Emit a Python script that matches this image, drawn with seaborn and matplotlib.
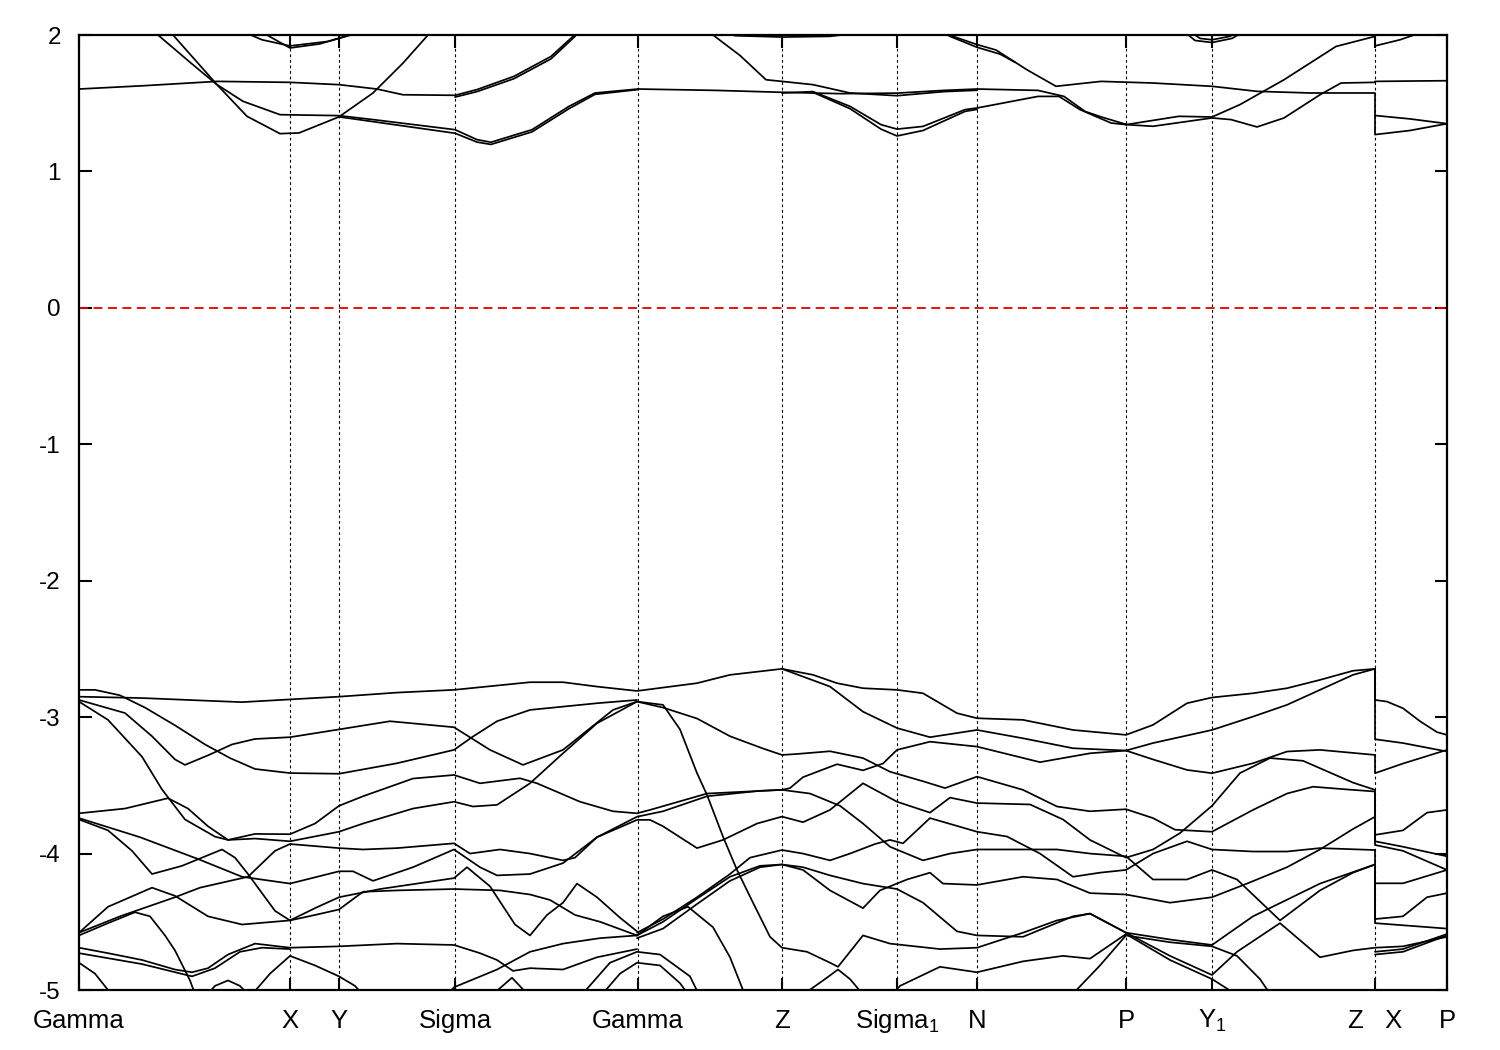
import matplotlib
matplotlib.use("Agg")
import matplotlib.pyplot as plt
import seaborn as sns
import pandas as pd

# path coordinate of the high-symmetry points (same units as the band data below)
sym_x = [79, 290, 339, 455, 638, 782, 897, 977, 1126, 1212, 1375, 1447]
sym_labels = ["Gamma", "X", "Y", "Sigma", "Gamma", "Z", "Sigma$_1$", "N",
              "P", "Y$_1$", "Z   X", "P"]
energy_ticks = [-5, -4, -3, -2, -1, 0, 1, 2]
fermi_level = 0.0

# conduction bands, (path, energy eV)
cb1 = [(79, 1.604), (143, 1.628), (217, 1.66), (290, 1.653), (339, 1.636), (377, 1.604),
       (403, 1.562), (455, 1.558), (477, 1.60), (514, 1.697), (551, 1.843), (573, 1.99), (580, 2.05)]
cb1b = [(455, 1.545), (477, 1.585), (514, 1.68), (551, 1.825), (575, 1.99), (582, 2.05)]
cb2 = [(150, 2.05), (158, 2.0), (191, 1.794), (217, 1.636), (243, 1.514), (280, 1.416), (339, 1.409),
       (373, 1.38), (455, 1.306), (477, 1.233), (491, 1.214), (532, 1.306), (569, 1.477), (595, 1.575),
       (638, 1.604)]
cb2b = [(339, 1.40), (373, 1.365), (455, 1.28), (477, 1.215), (491, 1.198), (532, 1.29), (569, 1.46),
        (595, 1.565), (638, 1.60)]
cb3 = [(165, 2.05), (173, 2.0), (217, 1.636), (247, 1.404), (280, 1.277), (299, 1.282), (339, 1.40),
       (373, 1.575), (403, 1.794), (428, 2.0), (432, 2.05)]
cb4 = [(235, 2.05), (262, 1.965), (290, 1.92), (328, 1.953), (351, 2.0), (355, 2.05)]
cb4b = [(262, 2.02), (290, 1.905), (320, 1.935), (345, 1.99), (352, 2.05)]
cb5 = [(638, 1.604), (716, 1.594), (782, 1.58), (840, 1.57), (897, 1.574), (944, 1.594), (977, 1.604),
       (1038, 1.594), (1064, 1.55), (1085, 1.44), (1101, 1.40), (1126, 1.345)]
cb6 = [(700, 2.05), (713, 2.0), (740, 1.85), (766, 1.672), (782, 1.66), (813, 1.636), (850, 1.575),
       (897, 1.555), (944, 1.585), (977, 1.595)]
cb7 = [(782, 1.575), (813, 1.585), (850, 1.477), (881, 1.343), (897, 1.31), (923, 1.33), (965, 1.453),
       (977, 1.465), (1038, 1.55), (1059, 1.55), (1080, 1.453), (1111, 1.355), (1126, 1.343)]
cb7b = [(813, 1.58), (850, 1.46), (881, 1.31), (897, 1.26), (923, 1.30), (965, 1.44), (977, 1.455)]
cb8 = [(940, 2.05), (949, 2.0), (977, 1.93), (996, 1.89), (1027, 1.745), (1056, 1.624), (1101, 1.66),
       (1153, 1.648), (1212, 1.624), (1257, 1.587), (1310, 1.575), (1375, 1.575),
       (1375, 1.41), (1410, 1.385), (1447, 1.35)]
cb8b = [(935, 2.05), (950, 1.99), (977, 1.91), (1000, 1.86), (1015, 1.80)]
cb9 = [(1126, 1.343), (1179, 1.404), (1212, 1.399), (1240, 1.49), (1284, 1.672), (1336, 1.916),
       (1375, 1.99), (1375, 1.92), (1400, 1.965), (1414, 2.0), (1420, 2.05)]
cb10 = [(1126, 1.343), (1153, 1.331), (1212, 1.392), (1231, 1.38), (1257, 1.326), (1284, 1.392),
        (1320, 1.562), (1341, 1.648), (1375, 1.653), (1375, 1.66), (1447, 1.665)]
cb11 = [(1375, 1.41), (1375, 1.27), (1410, 1.30), (1447, 1.35)]
cb12 = [(712, 2.05), (735, 1.995), (782, 1.985), (830, 1.99), (862, 2.02), (870, 2.05)]
cb13 = [(1180, 2.05), (1195, 1.96), (1212, 1.945), (1232, 1.975), (1250, 2.05)]
cb13b = [(1185, 2.05), (1200, 1.975), (1212, 1.965), (1230, 1.99), (1245, 2.05)]

# valence bands, (path, energy eV)
vb1 = [(79, -2.85), (142, -2.86), (208, -2.88), (242, -2.89), (290, -2.87), (339, -2.85), (397, -2.82),
       (454, -2.80), (530, -2.744), (563, -2.744), (597, -2.776), (637, -2.808), (697, -2.751),
       (730, -2.69), (782, -2.646), (813, -2.69), (837, -2.751), (863, -2.788), (897, -2.80),
       (923, -2.825), (957, -2.971), (977, -3.008), (1023, -3.02), (1073, -3.094), (1126, -3.13),
       (1153, -3.057), (1187, -2.898), (1212, -2.856), (1253, -2.825), (1287, -2.788), (1320, -2.727),
       (1353, -2.66), (1375, -2.646),
       (1375, -2.874), (1387, -2.886), (1403, -2.935), (1420, -3.03), (1437, -3.11), (1447, -3.13)]
vb2 = [(782, -2.646), (830, -2.776), (863, -2.96), (897, -3.08), (930, -3.147), (977, -3.094),
       (1023, -3.155), (1073, -3.228), (1126, -3.245), (1153, -3.19), (1212, -3.094), (1253, -2.996),
       (1287, -2.91), (1320, -2.80), (1353, -2.69), (1375, -2.646),
       (1375, -3.162), (1403, -3.19), (1447, -3.252)]
vb3 = [(79, -2.80), (95, -2.80), (120, -2.84), (145, -2.93), (175, -3.06), (205, -3.2), (230, -3.3),
       (255, -3.38), (290, -3.41), (339, -3.415), (397, -3.338), (454, -3.24), (473, -3.142),
       (497, -3.03), (530, -2.947), (597, -2.898), (637, -2.874)]
vb4 = [(79, -2.874), (125, -2.97), (152, -3.14), (175, -3.31), (185, -3.35), (208, -3.28), (232, -3.2),
       (255, -3.16), (290, -3.147), (339, -3.09), (390, -3.03), (454, -3.074), (490, -3.24),
       (523, -3.35), (563, -3.24), (613, -2.947), (637, -2.886)]
vb5 = [(79, -2.886), (108, -3.02), (142, -3.29), (162, -3.53), (185, -3.75), (215, -3.876), (228, -3.9),
       (255, -3.856), (290, -3.858), (315, -3.78), (339, -3.65), (363, -3.58), (413, -3.45),
       (454, -3.424), (480, -3.485), (520, -3.448), (537, -3.485), (580, -3.62), (613, -3.69),
       (637, -3.705), (650, -3.68), (707, -3.56), (782, -3.533), (790, -3.52), (803, -3.44),
       (837, -3.345), (863, -3.39), (883, -3.34), (897, -3.24), (930, -3.18), (977, -3.216),
       (1040, -3.33), (1090, -3.265), (1126, -3.245), (1153, -3.31), (1187, -3.387), (1212, -3.411),
       (1253, -3.338), (1287, -3.252), (1320, -3.24), (1375, -3.277),
       (1375, -3.411), (1403, -3.34), (1447, -3.24)]
vb6 = [(79, -3.705), (125, -3.67), (168, -3.594), (188, -3.67), (208, -3.8), (228, -3.9), (255, -3.89),
       (290, -3.91), (339, -3.84), (363, -3.78), (413, -3.67), (454, -3.62), (473, -3.655),
       (497, -3.643), (530, -3.485), (563, -3.265), (597, -3.045), (637, -2.886), (663, -2.93),
       (697, -3.01), (730, -3.14), (763, -3.23), (782, -3.277), (797, -3.27), (830, -3.25), (863, -3.3),
       (890, -3.40), (923, -3.47), (945, -3.52), (977, -3.436), (1023, -3.533), (1057, -3.655),
       (1090, -3.69), (1126, -3.675), (1153, -3.74), (1175, -3.825), (1212, -3.84), (1253, -3.68),
       (1287, -3.56), (1313, -3.51), (1347, -3.53), (1375, -3.545),
       (1375, -3.91), (1403, -3.95), (1447, -4.02)]
vb7 = [(79, -4.58), (120, -4.46), (175, -4.32), (200, -4.25), (248, -4.17), (275, -3.98), (290, -3.93),
       (339, -3.96), (363, -3.97), (397, -3.96), (454, -3.925), (470, -4.0), (500, -3.97), (530, -4.0),
       (563, -4.05), (575, -4.03), (597, -3.88), (637, -3.753), (650, -3.753), (663, -3.80),
       (697, -3.96), (723, -3.90), (757, -3.78), (782, -3.729), (803, -3.77), (830, -3.68),
       (863, -3.485), (897, -3.62), (930, -3.70), (950, -3.59), (977, -3.63), (1030, -3.64),
       (1063, -3.75), (1090, -3.90), (1126, -4.03), (1153, -3.97), (1180, -3.85), (1212, -3.65),
       (1240, -3.41), (1270, -3.30), (1303, -3.32), (1353, -3.48), (1375, -3.533),
       (1375, -3.863), (1403, -3.83), (1427, -3.70), (1447, -3.68)]
vb8 = [(79, -3.74), (140, -3.88), (198, -4.04), (242, -4.17), (290, -4.22), (339, -4.13), (353, -4.13),
       (373, -4.2), (413, -4.1), (454, -3.97), (480, -4.1), (497, -4.16), (530, -4.15), (563, -4.07),
       (597, -3.88), (637, -3.73), (663, -3.69), (707, -3.58), (760, -3.54), (782, -3.533),
       (810, -3.56), (840, -3.65), (863, -3.78), (890, -3.95), (923, -4.05), (950, -4.0), (977, -3.97),
       (1023, -3.97), (1057, -3.97), (1090, -4.0), (1126, -4.02), (1153, -4.19), (1187, -4.19),
       (1212, -4.12), (1237, -4.19), (1280, -4.49), (1320, -4.27), (1353, -4.14), (1375, -4.08),
       (1375, -4.48), (1403, -4.46), (1427, -4.32), (1447, -4.29)]
vb9 = [(637, -4.58), (663, -4.48), (697, -4.32), (730, -4.15), (750, -4.03), (782, -3.974), (803, -4.0),
       (830, -4.05), (850, -4.0), (875, -3.93), (890, -3.90), (903, -3.925), (930, -3.74), (977, -3.84),
       (1007, -3.875), (1040, -4.0), (1073, -4.17), (1100, -4.14), (1126, -4.12), (1153, -4.0),
       (1187, -3.91), (1212, -3.97), (1253, -3.985), (1287, -3.985), (1320, -3.96), (1375, -3.974),
       (1375, -4.218), (1403, -4.218), (1447, -4.12)]
vb10 = [(637, -4.62), (663, -4.55), (697, -4.37), (730, -4.2), (760, -4.1), (782, -4.08), (803, -4.12),
        (830, -4.27), (863, -4.4), (880, -4.27), (907, -4.19), (930, -4.14), (943, -4.22), (977, -4.23),
        (1023, -4.17), (1057, -4.19), (1090, -4.29), (1126, -4.30), (1170, -4.36), (1212, -4.32),
        (1247, -4.22), (1287, -4.1), (1320, -3.97), (1353, -3.82), (1375, -3.73),
        (1375, -3.937), (1403, -3.98), (1447, -4.12)]
vb11 = [(637, -4.6), (663, -4.50), (697, -4.33), (730, -4.17), (760, -4.09), (782, -4.08), (803, -4.1),
        (830, -4.16), (863, -4.22), (897, -4.26), (923, -4.36), (957, -4.57), (977, -4.6), (1023, -4.61),
        (1073, -4.46), (1090, -4.44), (1126, -4.58), (1170, -4.63), (1212, -4.67), (1253, -4.46),
        (1320, -4.22), (1375, -4.08),
        (1375, -4.51), (1447, -4.55)]
vb12 = [(637, -2.886), (663, -2.91), (680, -3.09), (697, -3.41), (707, -3.57), (723, -3.876),
        (737, -4.12), (753, -4.36), (770, -4.61), (782, -4.69), (807, -4.72), (830, -4.80), (838, -4.83),
        (863, -4.6), (890, -4.66), (940, -4.70), (977, -4.69), (1023, -4.58), (1057, -4.49),
        (1090, -4.44), (1126, -4.58), (1170, -4.75), (1200, -4.85), (1212, -4.89), (1237, -4.72),
        (1280, -4.51), (1320, -4.76), (1353, -4.71), (1375, -4.69),
        (1375, -4.69), (1403, -4.68), (1447, -4.61)]
vb13 = [(637, -4.6), (663, -4.46), (688, -4.39), (713, -4.54), (730, -4.76), (743, -5.0), (748, -5.05)]
vb14 = [(800, -5.05), (825, -4.92), (838, -4.85), (850, -4.92), (865, -5.05)]
vb15 = [(890, -5.05), (900, -4.97), (940, -4.83), (977, -4.87), (1023, -4.79), (1063, -4.75),
        (1090, -4.77), (1126, -4.59), (1170, -4.78), (1212, -4.92), (1240, -5.05)]
vb16 = [(1070, -5.05), (1100, -4.82), (1126, -4.6), (1170, -4.65), (1212, -4.68), (1237, -4.75),
        (1260, -4.92), (1272, -5.05)]
vb17 = [(79, -3.75), (108, -3.83), (132, -3.98), (152, -4.15), (182, -4.09), (222, -3.97), (235, -4.03),
        (248, -4.15), (262, -4.29), (275, -4.42), (290, -4.49), (315, -4.40), (339, -4.32), (380, -4.26),
        (454, -4.18), (467, -4.1), (490, -4.24), (515, -4.52), (530, -4.6), (547, -4.45), (563, -4.36),
        (577, -4.22), (597, -4.32), (620, -4.47), (637, -4.57)]
vb18 = [(79, -4.58), (108, -4.39), (152, -4.25), (175, -4.31), (208, -4.46), (242, -4.52), (290, -4.49),
        (315, -4.45), (339, -4.41), (363, -4.28), (397, -4.27), (454, -4.26), (500, -4.27), (530, -4.3),
        (550, -4.34), (575, -4.45), (600, -4.5), (637, -4.6)]
vb19 = [(79, -4.6), (108, -4.51), (135, -4.43), (150, -4.46), (165, -4.6), (175, -4.71), (190, -4.93),
        (196, -5.05)]
vb20 = [(79, -4.69), (108, -4.73), (142, -4.78), (175, -4.85), (192, -4.87), (208, -4.84), (228, -4.74),
        (255, -4.66), (290, -4.69), (339, -4.68), (397, -4.66), (454, -4.67), (480, -4.73),
        (497, -4.78), (513, -4.86), (530, -4.84), (563, -4.85), (597, -4.76), (637, -4.70)]
vb21 = [(79, -4.73), (142, -4.81), (192, -4.9), (215, -4.84), (240, -4.72), (262, -4.69), (290, -4.70)]
vb22 = [(79, -4.8), (95, -4.88), (108, -5.0), (112, -5.05)]
vb23 = [(205, -5.05), (215, -4.97), (228, -4.93), (240, -4.97), (250, -5.05)]
vb24 = [(250, -5.05), (270, -4.88), (290, -4.75), (315, -4.82), (339, -4.9), (355, -4.97), (365, -5.05)]
vb25 = [(445, -5.05), (454, -4.98), (497, -4.85), (530, -4.72), (563, -4.66), (600, -4.62), (637, -4.60)]
vb26 = [(580, -5.05), (610, -4.8), (637, -4.72), (660, -4.74), (690, -4.9), (700, -5.05)]
vb27 = [(600, -5.05), (620, -4.88), (637, -4.80), (660, -4.82), (680, -4.95), (690, -5.05)]
vb28 = [(490, -5.05), (512, -4.91), (530, -5.05)]
vb29 = [(1375, -4.74), (1403, -4.72), (1447, -4.60)]
vb30 = [(1375, -4.72), (1403, -4.70), (1447, -4.59)]

bands = [cb1, cb1b, cb2, cb2b, cb3, cb4, cb4b, cb5, cb6, cb7, cb7b, cb8, cb8b, cb9, cb10, cb11,
         cb12, cb13, cb13b,
         vb1, vb2, vb3, vb4, vb5, vb6, vb7, vb8, vb9, vb10, vb11, vb12, vb13, vb14, vb15, vb16,
         vb17, vb18, vb19, vb20, vb21, vb22, vb23, vb24, vb25, vb26, vb27, vb28, vb29, vb30]

x0 = sym_x[0]
rows = []
for i, band in enumerate(bands):
    for j, (x, e) in enumerate(band):
        rows.append({"band": i, "order": j, "k": (x - x0) / 100.0, "E": e})
df = pd.DataFrame(rows)
sym_k = [(x - x0) / 100.0 for x in sym_x]

sns.set_theme(style="white")
plt.rcParams["font.family"] = ["Liberation Sans", "DejaVu Sans"]
plt.rcParams["mathtext.default"] = "regular"

fig = plt.figure(figsize=(15, 10.5), dpi=100)
ax = fig.add_axes([79 / 1500, 60 / 1050, (1447 - 79) / 1500, (990 - 35) / 1050])

# high-symmetry guide lines and Fermi level
for k in sym_k[1:-1]:
    ax.axvline(k, color="black", lw=0.8, ls=(0, (2.5, 2.5)), zorder=1)
ax.axhline(fermi_level, color="#e00000", lw=1.3, ls=(0, (5, 3)), zorder=1)

sns.lineplot(data=df, x="k", y="E", units="band", estimator=None, sort=False,
             color="black", linewidth=1.25, legend=False, ax=ax, zorder=2)

ax.set_xlim(sym_k[0], sym_k[-1])
ax.set_ylim(-5, 2)
ax.set_xticks(sym_k)
ax.set_xticklabels([])
ax.set_yticks(energy_ticks)
ax.set_yticklabels([str(t) for t in energy_ticks])
ax.set_xlabel("")
ax.set_ylabel("")
ax.tick_params(axis="both", direction="in", length=9, width=1.5, labelsize=17.5,
               top=True, right=True, bottom=True, left=True, colors="black")
ax.tick_params(axis="y", pad=13)

# k-point labels on a common baseline (keeps the subscripts from shifting the row)
for k, lab in zip(sym_k, sym_labels):
    ax.text(k, -0.0398, lab, transform=ax.get_xaxis_transform(), ha="center",
            va="baseline", fontsize=18.5, color="black")

for s in ax.spines.values():
    s.set_linewidth(1.6)
    s.set_color("black")
ax.grid(False)

fig.savefig("out.png", dpi=100, facecolor="white")
